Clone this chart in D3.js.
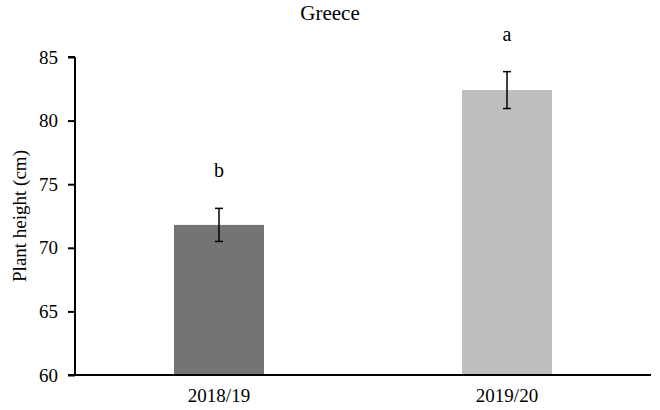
<!DOCTYPE html>
<html>
<head>
<meta charset="utf-8">
<script src="https://cdn.jsdelivr.net/npm/d3@7"></script>
<style>
  body { margin: 0; background: #fff; }
</style>
</head>
<body>
<svg width="660" height="410"></svg>
<script>
  // Data
  const seasons = ["2018/19", "2019/20"];
  const heights = [71.8, 82.4];       // mean plant height (cm)
  const errors = [1.3, 1.45];         // error bar half-length
  const letters = ["b", "a"];
  const barColors = ["#747474", "#bebebe"];
  const yTicks = [60, 65, 70, 75, 80, 85];

  const FONT = "'Liberation Serif', 'Times New Roman', Times, serif";

  const svg = d3.select("svg")
    .style("font-family", FONT);
  const margin = { left: 75, right: 9, top: 57, bottom: 35 };
  const width = +svg.attr("width");
  const height = +svg.attr("height");

  const x = d3.scaleBand()
    .domain(seasons)
    .range([margin.left, width - margin.right])
    .paddingInner(0.6875)
    .paddingOuter(0.34375);

  const y = d3.scaleLinear()
    .domain([60, 85])
    .range([height - margin.bottom, margin.top]);

  // Title
  svg.append("text")
    .attr("x", 330)
    .attr("y", 20)
    .attr("text-anchor", "middle")
    .style("font-family", FONT)
    .style("font-size", "21px")
    .text("Greece");

  // Bars
  svg.selectAll("rect.bar")
    .data(seasons)
    .join("rect")
    .attr("class", "bar")
    .attr("x", d => x(d))
    .attr("width", x.bandwidth())
    .attr("y", (d, i) => y(heights[i]))
    .attr("height", (d, i) => y(60) - y(heights[i]))
    .attr("fill", (d, i) => barColors[i]);

  // Error bars
  const eb = svg.selectAll("g.err")
    .data(seasons)
    .join("g")
    .attr("class", "err")
    .attr("stroke", "#000")
    .attr("stroke-width", 1.5);
  eb.append("line")
    .attr("x1", d => x(d) + x.bandwidth() / 2)
    .attr("x2", d => x(d) + x.bandwidth() / 2)
    .attr("y1", (d, i) => y(heights[i] - errors[i]))
    .attr("y2", (d, i) => y(heights[i] + errors[i]));
  [-1, 1].forEach(s => {
    eb.append("line")
      .attr("x1", d => x(d) + x.bandwidth() / 2 - 4)
      .attr("x2", d => x(d) + x.bandwidth() / 2 + 4)
      .attr("y1", (d, i) => y(heights[i] + s * errors[i]))
      .attr("y2", (d, i) => y(heights[i] + s * errors[i]));
  });

  // Significance letters
  svg.selectAll("text.letter")
    .data(seasons)
    .join("text")
    .attr("class", "letter")
    .attr("x", d => x(d) + x.bandwidth() / 2)
    .attr("y", (d, i) => y(heights[i] + errors[i]) - 31)
    .attr("text-anchor", "middle")
    .style("font-family", FONT)
    .style("font-size", "20px")
    .text((d, i) => letters[i]);

  // Y axis
  const yAxis = svg.append("g")
    .attr("transform", `translate(${margin.left},0)`)
    .call(d3.axisLeft(y).tickValues(yTicks).tickSize(7).tickPadding(10));
  yAxis.attr("font-family", null);
  yAxis.select(".domain").attr("stroke-width", 2).attr("d", `M0,${y(85)}H-7M0,${y(85)}V${y(60)}`);
  yAxis.selectAll(".tick line").attr("stroke-width", 2);
  yAxis.selectAll(".tick text")
    .style("font-family", FONT)
    .style("font-size", "19px");

  // X axis
  const xAxis = svg.append("g")
    .attr("transform", `translate(0,${y(60)})`)
    .call(d3.axisBottom(x).tickSize(0).tickPadding(14));
  xAxis.attr("font-family", null);
  xAxis.select(".domain").attr("stroke-width", 2)
    .attr("d", `M${margin.left - 7},0H${width - margin.right}`);
  xAxis.selectAll(".tick text")
    .style("font-family", FONT)
    .style("font-size", "19px");

  // Y axis label
  svg.append("text")
    .attr("transform", `translate(26,${(y(60) + y(85)) / 2}) rotate(-90)`)
    .attr("text-anchor", "middle")
    .style("font-family", FONT)
    .style("font-size", "19px")
    .text("Plant height (cm)");
</script>
</body>
</html>
